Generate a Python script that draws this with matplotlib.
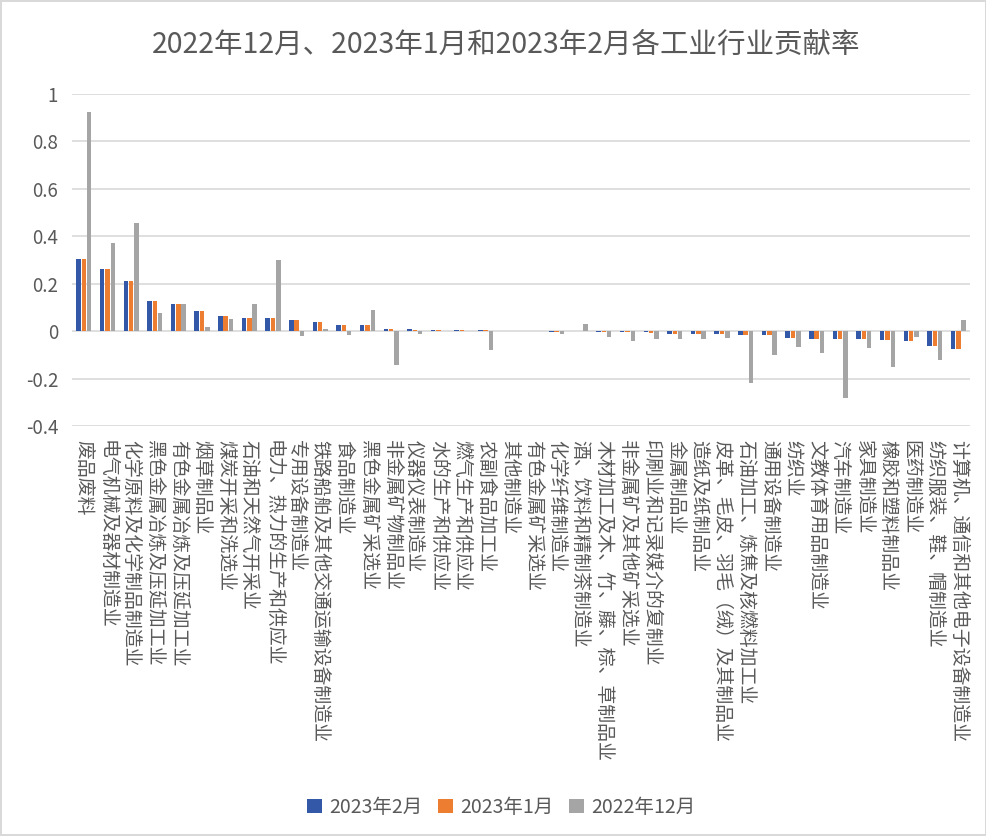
import numpy as np
import matplotlib
matplotlib.use("Agg")
import matplotlib.pyplot as plt
from matplotlib.ticker import FuncFormatter
from matplotlib.patches import Patch

plt.rcParams['font.family'] = ['Noto Sans CJK SC', 'DejaVu Sans']
plt.rcParams['axes.unicode_minus'] = False

# industries, in chart order
industries = [
    "废品废料", "电气机械及器材制造业", "化学原料及化学制品制造业",
    "黑色金属冶炼及压延加工业", "有色金属冶炼及压延加工业", "烟草制品业",
    "煤炭开采和洗选业", "石油和天然气开采业", "电力、热力的生产和供应业",
    "专用设备制造业", "铁路船舶及其他交通运输设备制造业", "食品制造业",
    "黑色金属矿采选业", "非金属矿物制品业", "仪器仪表制造业",
    "水的生产和供应业", "燃气生产和供应业", "农副食品加工业",
    "其他制造业", "有色金属矿采选业", "化学纤维制造业",
    "酒、饮料和精制茶制造业", "木材加工及木、竹、藤、棕、草制品业",
    "非金属矿及其他矿采选业", "印刷业和记录媒介的复制业", "金属制品业",
    "造纸及纸制品业", "皮革、毛皮、羽毛（绒）及其制品业",
    "石油加工、炼焦及核燃料加工业", "通用设备制造业", "纺织业",
    "文教体育用品制造业", "汽车制造业", "家具制造业", "橡胶和塑料制品业",
    "医药制造业", "纺织服装、鞋、帽制造业", "计算机、通信和其他电子设备制造业",
]

feb_2023 = [
    0.305, 0.260, 0.210, 0.127, 0.113, 0.087, 0.062, 0.055, 0.055, 0.045,
    0.037, 0.027, 0.027, 0.011, 0.007, 0.006, 0.005, 0.005, 0.001, 0.000,
    -0.002, 0.000, -0.002, -0.005, -0.005, -0.011, -0.012, -0.012, -0.018,
    -0.018, -0.027, -0.031, -0.034, -0.034, -0.038, -0.042, -0.062, -0.077,
]
jan_2023 = [
    0.305, 0.260, 0.210, 0.127, 0.113, 0.087, 0.062, 0.055, 0.055, 0.045,
    0.037, 0.027, 0.027, 0.011, 0.006, 0.004, 0.004, 0.004, 0.001, 0.000,
    -0.002, 0.000, -0.002, -0.005, -0.006, -0.011, -0.012, -0.012, -0.018,
    -0.018, -0.027, -0.031, -0.034, -0.034, -0.038, -0.042, -0.062, -0.077,
]
dec_2022 = [
    0.924, 0.371, 0.457, 0.076, 0.113, 0.018, 0.051, 0.113, 0.302, -0.021,
    0.011, -0.018, 0.091, -0.141, -0.010, 0.002, 0.002, -0.080, 0.000, 0.000,
    -0.010, 0.031, -0.024, -0.041, -0.034, -0.034, -0.034, -0.027, -0.217,
    -0.101, -0.066, -0.093, -0.280, -0.069, -0.152, -0.024, -0.120, 0.049,
]

series_names = ["2023年2月", "2023年1月", "2022年12月"]
colors = ["#3358A8", "#ED7D31", "#A5A5A5"]

fig = plt.figure(figsize=(9.87, 8.36), dpi=100)
fig.patch.set_edgecolor("#D9D9D9")
fig.patch.set_linewidth(1.5)
ax = fig.add_axes([0.073, 0.4904, 0.910, 0.3972])

x = np.arange(len(industries))
width = 0.19
for i, (vals, c) in enumerate(zip([feb_2023, jan_2023, dec_2022], colors)):
    ax.bar(x + (i - 1) * 0.225, vals, width, color=c, zorder=3)

ax.set_xlim(-0.5, len(industries) - 0.5)
ax.set_ylim(-0.4, 1.0)
ax.set_yticks(np.arange(-0.4, 1.01, 0.2))
ax.yaxis.set_major_formatter(FuncFormatter(lambda v, p: "%g" % round(v, 1)))
ax.grid(axis="y", color="#D9D9D9", linewidth=1.2, zorder=0)
for s in ax.spines.values():
    s.set_visible(False)
ax.tick_params(axis="both", length=0, colors="#595959")
ax.tick_params(axis="y", labelsize=13.5, pad=10)
ax.set_xticks(x)
ax.set_xticklabels(industries, rotation=270, fontsize=13.6, color="#595959",
                   ha="center", va="top")
ax.tick_params(axis="x", pad=10)

fig.text(0.513, 0.946, "2022年12月、2023年1月和2023年2月各工业行业贡献率",
         ha="center", va="center", fontsize=20.5, color="#595959")

handles = [Patch(facecolor=c, label=n) for c, n in zip(colors, series_names)]
fig.legend(handles=handles, loc="center", bbox_to_anchor=(0.508, 0.034),
           ncol=3, frameon=False, fontsize=14, handlelength=0.75,
           handleheight=0.75, handletextpad=0.4, columnspacing=0.8,
           labelcolor="#595959")

fig.savefig("out.png", dpi=100)
